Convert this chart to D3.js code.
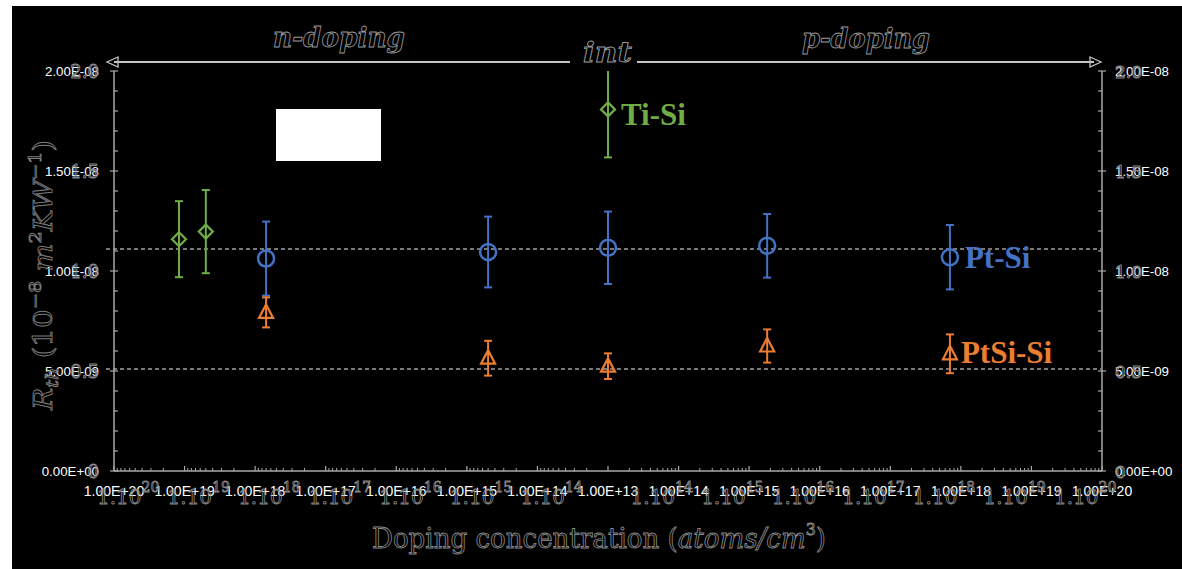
<!DOCTYPE html>
<html>
<head>
<meta charset="utf-8">
<script src="https://cdn.jsdelivr.net/npm/d3@7"></script>
<style>
  html, body { margin: 0; padding: 0; background: #fff; }
  svg { display: block; }
</style>
</head>
<body>
<svg id="chart" width="1182" height="569"></svg>
<script>
// Thermal boundary resistance vs. doping concentration for three interfaces.
// Doping type: 'n' (left half, decreasing), 'i' (intrinsic, centre), 'p' (right half, increasing)
const tiSiType = ['n', 'n', 'i'];
const tiSiConc = [1.2e19, 5e18, 1e13];
const tiSiValue = [1.159e-8, 1.197e-8, 1.808e-8];
const tiSiError = [0.19e-8, 0.208e-8, 0.24e-8];

const ptType = ['n', 'n', 'i', 'p', 'p'];
const ptConc = [7e17, 5e14, 1e13, 1.8e15, 7e17];
const ptSiValue = [1.062e-8, 1.095e-8, 1.116e-8, 1.126e-8, 1.069e-8];
const ptSiError = [0.185e-8, 0.177e-8, 0.181e-8, 0.159e-8, 0.161e-8];

const ptSiSiValue = [0.793e-8, 0.564e-8, 0.524e-8, 0.625e-8, 0.586e-8];
const ptSiSiError = [0.075e-8, 0.087e-8, 0.064e-8, 0.083e-8, 0.097e-8];

// Horizontal reference levels
const refLines = [1.11e-8, 0.51e-8];

// Axis tick positions (decades away from intrinsic 1e13) and labels
const xTickPos = [-7, -6, -5, -4, -3, -2, -1, 0, 1, 2, 3, 4, 5, 6, 7];
const xTickLabels = ['1.00E+20', '1.00E+19', '1.00E+18', '1.00E+17', '1.00E+16', '1.00E+15', '1.00E+14',
  '1.00E+13', '1.00E+14', '1.00E+15', '1.00E+16', '1.00E+17', '1.00E+18', '1.00E+19', '1.00E+20'];
const xAltExponents = ['20', '19', '18', '17', '16', '15', '14', '', '14', '15', '16', '17', '18', '19', '20'];
const yTicks = [0, 0.5e-8, 1.0e-8, 1.5e-8, 2.0e-8];
const yTickLabelsLeft = ['0.00E+00', '5.00E-09', '1.00E-08', '1.50E-08', '2.00E-08'];
const yTickAlt = ['0', '0.5', '1.0', '1.5', '2.0'];
const yTickLabelsRight = ['0.00E+00', '5.00E-09', '1.00E-08', '1.50E-08', '2.00E-08'];

const GREEN = '#70AD47', BLUE = '#4472C4', ORANGE = '#ED7D31';
const AXIS = '#a8a8a8', OUTLINE = '#8a8a8a';

const svg = d3.select('#chart');

// dark canvas
svg.append('rect').attr('x', 12).attr('y', 6).attr('width', 1170).attr('height', 563).attr('fill', '#000');

const x = d3.scaleLinear().domain([-7, 7]).range([114, 1102]);
const y = d3.scaleLinear().domain([0, 2e-8]).range([471, 71]);

function pos(type, c) {
  const d = Math.log10(c) - 13;
  return type === 'n' ? -d : type === 'p' ? d : 0;
}

// reference dashed lines
svg.append('g').selectAll('line').data(refLines).join('line')
  .attr('x1', 106).attr('x2', 1101)
  .attr('y1', d => y(d)).attr('y2', d => y(d))
  .attr('stroke', '#a0a0a0').attr('stroke-width', 1.5).attr('stroke-dasharray', '4,3');

// ---- y axes ----
const yMinor = d3.range(0, 21).map(i => i * 0.1e-8);
const gL = svg.append('g');
gL.append('line').attr('x1', 114).attr('x2', 114).attr('y1', y(0)).attr('y2', y(2e-8))
  .attr('stroke', AXIS).attr('stroke-width', 1.5);
gL.selectAll('line.minor').data(yMinor).join('line').attr('class', 'minor')
  .attr('x1', d => yTicks.some(t => Math.abs(t - d) < 1e-12) ? 110 : 114)
  .attr('x2', 118).attr('y1', d => y(d)).attr('y2', d => y(d))
  .attr('stroke', AXIS).attr('stroke-width', 1.2);
gL.selectAll('text.lab').data(yTicks).join('text').attr('class', 'lab')
  .attr('x', 99).attr('y', d => y(d) + 5).attr('text-anchor', 'end')
  .attr('font-family', 'Liberation Sans, Arial, sans-serif').attr('font-size', 13.3)
  .attr('fill', '#fff').text((d, i) => yTickLabelsLeft[i]);
gL.selectAll('text.alt').data(yTicks).join('text').attr('class', 'alt')
  .attr('x', 99).attr('y', d => y(d) + 6.5).attr('text-anchor', 'end')
  .attr('font-family', 'DejaVu Serif, serif').attr('font-size', 18)
  .attr('fill', 'none').attr('stroke', OUTLINE).attr('stroke-width', 0.9)
  .text((d, i) => yTickAlt[i]);

const gR = svg.append('g');
gR.append('line').attr('x1', 1102).attr('x2', 1102).attr('y1', y(0)).attr('y2', y(2e-8))
  .attr('stroke', AXIS).attr('stroke-width', 1.5);
gR.selectAll('line.minor').data(yMinor).join('line').attr('class', 'minor')
  .attr('x1', 1098)
  .attr('x2', d => yTicks.some(t => Math.abs(t - d) < 1e-12) ? 1106 : 1102)
  .attr('y1', d => y(d)).attr('y2', d => y(d))
  .attr('stroke', AXIS).attr('stroke-width', 1.2);
gR.selectAll('text.lab').data(yTicks).join('text').attr('class', 'lab')
  .attr('x', 1115).attr('y', d => y(d) + 5)
  .attr('font-family', 'Liberation Sans, Arial, sans-serif').attr('font-size', 13.3)
  .attr('fill', '#fff').text((d, i) => yTickLabelsRight[i]);
gR.selectAll('text.alt').data(yTicks).join('text').attr('class', 'alt')
  .attr('x', 1115).attr('y', d => y(d) + 6.5)
  .attr('font-family', 'DejaVu Serif, serif').attr('font-size', 17)
  .attr('fill', 'none').attr('stroke', OUTLINE).attr('stroke-width', 0.9)
  .text((d, i) => yTickAlt[i]);

// ---- x axis ----
const gX = svg.append('g');
gX.append('line').attr('x1', 114).attr('x2', 1102).attr('y1', 471).attr('y2', 471)
  .attr('stroke', AXIS).attr('stroke-width', 1.5);
const xMinor = [];
for (let e = 13; e < 20; e++) {
  for (let m = 2; m <= 9; m++) {
    const c = m * Math.pow(10, e);
    xMinor.push(pos('n', c), pos('p', c));
  }
}
gX.selectAll('line.minor').data(xMinor).join('line').attr('class', 'minor')
  .attr('x1', d => x(d)).attr('x2', d => x(d)).attr('y1', 471).attr('y2', 468)
  .attr('stroke', AXIS).attr('stroke-width', 1);
gX.selectAll('line.major').data(xTickPos).join('line').attr('class', 'major')
  .attr('x1', d => x(d)).attr('x2', d => x(d)).attr('y1', 471).attr('y2', 466)
  .attr('stroke', AXIS).attr('stroke-width', 1.2);
gX.selectAll('text.lab').data(xTickPos).join('text').attr('class', 'lab')
  .attr('x', d => x(d)).attr('y', 496).attr('text-anchor', 'middle')
  .attr('font-family', 'Liberation Sans, Arial, sans-serif').attr('font-size', 14)
  .attr('fill', '#fff').text((d, i) => xTickLabels[i]);
const alt = gX.selectAll('text.alt').data(xTickPos.filter((d, i) => xAltExponents[i] !== ''))
  .join('text').attr('class', 'alt')
  .attr('x', d => x(d) + (d < 0 ? 28 : -3)).attr('y', 504).attr('text-anchor', 'end')
  .attr('font-family', 'DejaVu Serif, serif')
  .attr('fill', 'none').attr('stroke', OUTLINE).attr('stroke-width', 0.8);
alt.append('tspan').attr('font-size', 20).text('1.10');
alt.append('tspan').attr('font-size', 14).attr('dy', -12)
  .text(d => xAltExponents[xTickPos.indexOf(d)]);
// place exponent after the mantissa
alt.attr('text-anchor', 'start').attr('x', d => x(d) + (d < 0 ? 28 : -3) - 45);

// ---- axis titles (outlined) ----
const xt = svg.append('text').attr('x', 372).attr('y', 548)
  .attr('font-family', 'DejaVu Serif, serif').attr('font-size', 28)
  .attr('fill', 'none').attr('stroke', OUTLINE).attr('stroke-width', 0.9)
  .attr('textLength', 454).attr('lengthAdjust', 'spacingAndGlyphs');
xt.append('tspan').text('Doping concentration (');
xt.append('tspan').attr('font-style', 'italic').text('atoms/cm');
xt.append('tspan').attr('font-size', 17).attr('dy', -13).text('3');
xt.append('tspan').attr('dy', 13).text(')');

const yt = svg.append('text').attr('transform', 'translate(52,275) rotate(-90)')
  .attr('text-anchor', 'middle')
  .attr('font-family', 'DejaVu Serif, serif').attr('font-size', 26)
  .attr('fill', 'none').attr('stroke', '#7a7a7a').attr('stroke-width', 0.9)
  .attr('textLength', 270).attr('lengthAdjust', 'spacingAndGlyphs');
yt.append('tspan').attr('font-style', 'italic').text('R');
yt.append('tspan').attr('font-style', 'italic').attr('font-size', 17).attr('dy', 6).text('th');
yt.append('tspan').attr('dy', -6).text(' (10');
yt.append('tspan').attr('font-size', 17).attr('dy', -11).text('−8');
yt.append('tspan').attr('font-style', 'italic').attr('dy', 11).text(' m');
yt.append('tspan').attr('font-size', 17).attr('dy', -11).text('2');
yt.append('tspan').attr('font-style', 'italic').attr('dy', 11).text('KW');
yt.append('tspan').attr('font-size', 17).attr('dy', -11).text('−1');
yt.append('tspan').attr('dy', 11).text(')');

// ---- doping-region arrow ----
const gA = svg.append('g').attr('stroke', '#c4c4c4').attr('stroke-width', 2).attr('fill', 'none');
gA.append('line').attr('x1', 114).attr('x2', 570).attr('y1', 62).attr('y2', 62);
gA.append('line').attr('x1', 637).attr('x2', 1094).attr('y1', 62).attr('y2', 62);
gA.append('path').attr('d', 'M118,57 L107,62 L118,67 Z').attr('stroke-width', 1.3);
gA.append('path').attr('d', 'M1090,57 L1101,62 L1090,67 Z').attr('stroke-width', 1.3);

const regionLabels = [
  { t: 'n-doping', x: 273, y: 47, w: 132 },
  { t: 'int', x: 583, y: 62, w: 49 },
  { t: 'p-doping', x: 802, y: 48, w: 128 }
];
svg.append('g').selectAll('text').data(regionLabels).join('text')
  .attr('x', d => d.x).attr('y', d => d.y)
  .attr('font-family', 'DejaVu Serif, serif').attr('font-style', 'italic').attr('font-weight', 'bold')
  .attr('font-size', 28).attr('fill', 'none').attr('stroke', '#9a9a9a').attr('stroke-width', 0.9)
  .attr('textLength', d => d.w).attr('lengthAdjust', 'spacingAndGlyphs')
  .text(d => d.t);

// blank inset box
svg.append('rect').attr('x', 276).attr('y', 109).attr('width', 105).attr('height', 52)
  .attr('fill', '#fff');

// ---- series ----
function series(types, concs, vals, errs, color, shape) {
  const data = vals.map((v, i) => ({ px: x(pos(types[i], concs[i])), v, e: errs[i] }));
  const g = svg.append('g').attr('stroke', color).attr('fill', 'none');
  const top = d => y(Math.min(d.v + d.e, 2e-8));
  g.selectAll('line.bar').data(data).join('line').attr('class', 'bar')
    .attr('x1', d => d.px).attr('x2', d => d.px)
    .attr('y1', top).attr('y2', d => y(d.v - d.e)).attr('stroke-width', 2);
  g.selectAll('line.capb').data(data).join('line').attr('class', 'capb')
    .attr('x1', d => d.px - 4).attr('x2', d => d.px + 4)
    .attr('y1', d => y(d.v - d.e)).attr('y2', d => y(d.v - d.e)).attr('stroke-width', 2);
  g.selectAll('line.capt').data(data.filter(d => d.v + d.e <= 2e-8)).join('line').attr('class', 'capt')
    .attr('x1', d => d.px - 4).attr('x2', d => d.px + 4)
    .attr('y1', top).attr('y2', top).attr('stroke-width', 2);
  g.selectAll('path.mk').data(data).join('path').attr('class', 'mk')
    .attr('transform', d => `translate(${d.px},${y(d.v)})`)
    .attr('stroke-width', shape === 'circle' ? 2.5 : 2.2)
    .attr('d', shape === 'diamond' ? 'M0,-7 L7,0 L0,7 L-7,0 Z'
      : shape === 'circle' ? 'M8,0 A8,8 0 1,1 -8,0 A8,8 0 1,1 8,0 Z'
      : 'M0,-8 L7,5.5 L-7,5.5 Z');
  return data;
}
const ti = series(tiSiType, tiSiConc, tiSiValue, tiSiError, GREEN, 'diamond');
const pt = series(ptType, ptConc, ptSiValue, ptSiError, BLUE, 'circle');
const ps = series(ptType, ptConc, ptSiSiValue, ptSiSiError, ORANGE, 'triangle');

// series name tags beside chosen points
const tags = [
  { t: 'Ti-Si', d: ti[2], dx: 13, dy: 16, c: GREEN },
  { t: 'Pt-Si', d: pt[4], dx: 15, dy: 11, c: BLUE },
  { t: 'PtSi-Si', d: ps[4], dx: 11, dy: 9, c: ORANGE }
];
svg.append('g').selectAll('text').data(tags).join('text')
  .attr('x', d => d.d.px + d.dx).attr('y', d => y(d.d.v) + d.dy)
  .attr('font-family', 'Liberation Serif, Times New Roman, serif').attr('font-weight', 'bold')
  .attr('font-size', 31).attr('fill', d => d.c).text(d => d.t);
</script>
</body>
</html>
